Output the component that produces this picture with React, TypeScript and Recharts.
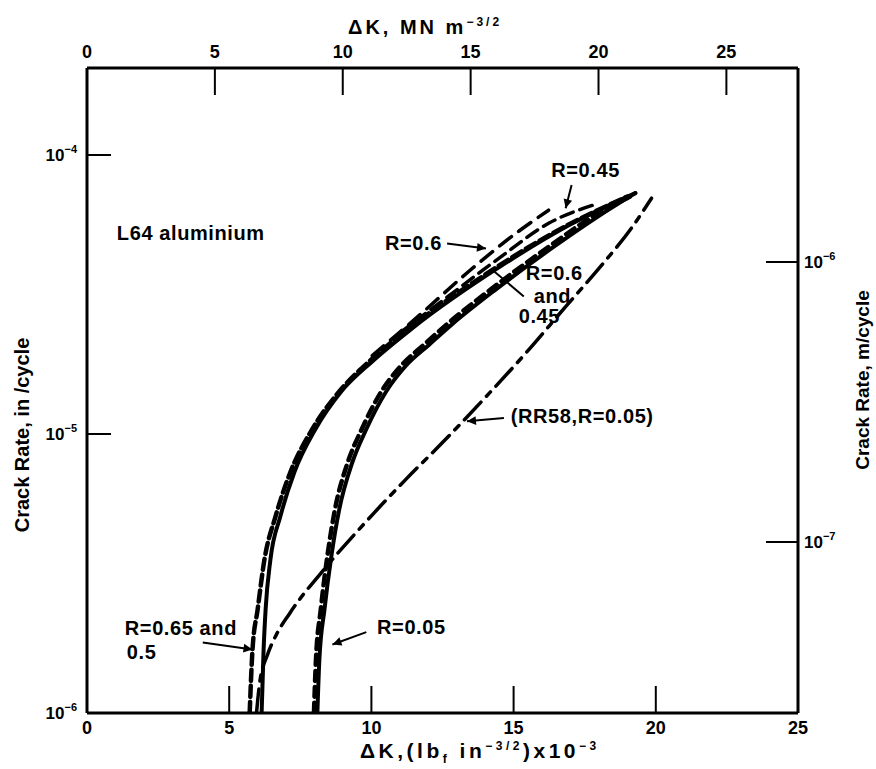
import React from 'react'
import { LineChart, Line, XAxis, YAxis, ReferenceLine, ReferenceDot } from 'recharts'

const W = 876
const H = 769
const FONT = '"Liberation Sans", Arial, sans-serif'

// ΔK in (lbf in^-3/2) x 10^-3, crack rate in in/cycle
const kR065 = [6.14, 6.21, 6.28, 6.45, 6.8, 7.29, 8.03, 8.94, 10.03, 11.43, 14.59, 16.94, 19.28]
const rateR065 = [1.0e-6, 1.69e-6, 2.35e-6, 3.55e-6, 5.07e-6, 7.29e-6, 1.04e-5, 1.42e-5, 1.82e-5, 2.39e-5, 4.02e-5, 5.6e-5, 7.3e-5]

const kR05 = [5.72, 5.82, 6.0, 6.24, 6.63, 7.15, 7.92, 8.87, 10.0, 11.68, 13.78, 16.6, 19.0]
const rateR05 = [1.0e-6, 1.69e-6, 2.35e-6, 3.55e-6, 5.07e-6, 7.29e-6, 1.04e-5, 1.42e-5, 1.85e-5, 2.55e-5, 3.6e-5, 5.4e-5, 7.1e-5]

const kR06 = [10.03, 11.68, 13.43, 15.18, 16.23]
const rateR06 = [1.91e-5, 2.66e-5, 3.83e-5, 5.33e-5, 6.34e-5]

const kR045 = [10.97, 12.73, 14.48, 16.23, 17.99]
const rateR045 = [2.29e-5, 3.13e-5, 4.26e-5, 5.69e-5, 6.71e-5]

const kR005 = [8.1, 8.17, 8.35, 8.59, 8.87, 9.33, 9.82, 10.52, 11.22, 12.03, 12.83, 14.38, 16.48, 17.99, 19.28]
const rateR005 = [1.0e-6, 1.55e-6, 2.35e-6, 3.64e-6, 5.37e-6, 7.92e-6, 1.04e-5, 1.42e-5, 1.76e-5, 2.09e-5, 2.47e-5, 3.3e-5, 4.74e-5, 6.04e-5, 7.3e-5]

const kR005b = [7.98, 8.05, 8.22, 8.45, 8.72, 9.17, 9.66, 10.35, 11.05, 11.85, 12.65, 14.2, 16.3, 17.8, 19.1]
const rateR005b = [1.0e-6, 1.55e-6, 2.35e-6, 3.64e-6, 5.37e-6, 7.92e-6, 1.04e-5, 1.42e-5, 1.76e-5, 2.09e-5, 2.47e-5, 3.3e-5, 4.74e-5, 6.04e-5, 7.1e-5]

const kRR58 = [5.96, 6.07, 6.35, 6.66, 7.12, 8.42, 9.82, 11.22, 12.62, 14.03, 15.43, 16.83, 18.09, 19.14, 19.85]
const rateRR58 = [1.0e-6, 1.28e-6, 1.62e-6, 1.91e-6, 2.27e-6, 3.35e-6, 4.86e-6, 6.89e-6, 9.59e-6, 1.36e-5, 1.95e-5, 2.86e-5, 4.02e-5, 5.46e-5, 7.0e-5]

const bottomTicks = [0, 5, 10, 15, 20, 25]
const topTicks = [0, 5, 10, 15, 20, 25]
const leftTicks = [1e-6, 1e-5, 1e-4]
const rightTicks = [1e-7, 1e-6]

const notes = [
  { text: 'L64 aluminium', k: 1.05, rate: 5.24e-5, anchor: 'start' },
  { text: 'R=0.45', k: 17.53, rate: 8.83e-5, anchor: 'middle' },
  { text: 'R=0.6', k: 12.48, rate: 4.82e-5, anchor: 'end' },
  { text: 'R=0.6', k: 15.43, rate: 3.77e-5, anchor: 'start' },
  { text: 'and', k: 15.71, rate: 3.13e-5, anchor: 'start' },
  { text: '0.45', k: 15.18, rate: 2.64e-5, anchor: 'start' },
  { text: '(RR58,R=0.05)', k: 14.9, rate: 1.16e-5, anchor: 'start' },
  { text: 'R=0.65 and', k: 1.33, rate: 2.02e-6, anchor: 'start' },
  { text: '0.5', k: 1.4, rate: 1.66e-6, anchor: 'start' },
  { text: 'R=0.05', k: 10.2, rate: 2.04e-6, anchor: 'start' },
]

const pointers = [
  { k1: 14.66, r1: 1.14e-5, k2: 13.36, r2: 1.11e-5, head: true },
  { k1: 12.66, r1: 4.82e-5, k2: 14.03, r2: 4.62e-5, head: true },
  { k1: 15.36, r1: 3.11e-5, k2: 14.31, r2: 3.83e-5, head: false },
  { k1: 17.04, r1: 7.8e-5, k2: 16.83, r2: 6.44e-5, head: true },
  { k1: 4.07, r1: 1.79e-6, k2: 5.82, r2: 1.69e-6, head: true },
  { k1: 9.82, r1: 1.95e-6, k2: 8.63, r2: 1.76e-6, head: true },
]

const toPts = (k: number[], r: number[]) => k.map((v, i) => ({ k: v, rate: r[i] }))

const series = [
  { data: toPts(kR05, rateR05), dash: '11 5', width: 4.5 },
  { data: toPts(kR065, rateR065), dash: undefined, width: 4 },
  { data: toPts(kR06, rateR06), dash: '15 9', width: 3.5 },
  { data: toPts(kR045, rateR045), dash: '13 7', width: 3.5 },
  { data: toPts(kR005b, rateR005b), dash: '10 6', width: 4.5 },
  { data: toPts(kR005, rateR005), dash: undefined, width: 4 },
  { data: toPts(kRR58, rateRR58), dash: '24 8 6 8', width: 3.5 },
]

const exp = (v: number) => Math.round(Math.log10(v))

function Pow({ x, y, v, anchor }: any) {
  return (
    <text x={x} y={y} dy="0.35em" textAnchor={anchor} fontFamily={FONT} fontWeight={700} fontSize={17} fill="#000">
      <tspan>10</tspan>
      <tspan dy={-8} fontSize={11}>{'\u2212' + Math.abs(exp(v))}</tspan>
    </text>
  )
}

function BottomTick({ x, y, payload }: any) {
  return (
    <g>
      <line x1={x} x2={x} y1={y} y2={y - 27} stroke="#000" strokeWidth={2} />
      <text x={x} y={y + 15} dy="0.35em" textAnchor="middle" fontFamily={FONT} fontWeight={700} fontSize={18} fill="#000">
        {payload.value}
      </text>
    </g>
  )
}

function TopTick({ x, y, payload }: any) {
  return (
    <g>
      <line x1={x} x2={x} y1={y} y2={y + 27} stroke="#000" strokeWidth={2} />
      <text x={x} y={y - 16} dy="0.35em" textAnchor="middle" fontFamily={FONT} fontWeight={700} fontSize={18} fill="#000">
        {payload.value}
      </text>
    </g>
  )
}

function LeftTick({ x, y, payload }: any) {
  return (
    <g>
      <line x1={x} x2={x + 24} y1={y} y2={y} stroke="#000" strokeWidth={2} />
      <Pow x={x - 10} y={y} v={payload.value} anchor="end" />
    </g>
  )
}

function RightTick({ x, y, payload }: any) {
  return (
    <g>
      <line x1={x} x2={x - 32} y1={y} y2={y} stroke="#000" strokeWidth={2} />
      <Pow x={x + 6} y={y} v={payload.value} anchor="start" />
    </g>
  )
}

function Pointer(p: any) {
  const { x1, y1, x2, y2, head } = p
  const a = Math.atan2(y2 - y1, x2 - x1)
  const L = 10
  const s = 0.45
  const tri = [
    [x2, y2],
    [x2 - L * Math.cos(a - s), y2 - L * Math.sin(a - s)],
    [x2 - L * Math.cos(a + s), y2 - L * Math.sin(a + s)],
  ]
  return (
    <g>
      <line x1={x1} y1={y1} x2={x2} y2={y2} stroke="#000" strokeWidth={2} />
      {head && <polygon points={tri.map((t) => t.join(',')).join(' ')} fill="#000" />}
    </g>
  )
}

const titleStyle: React.CSSProperties = {
  position: 'absolute',
  fontFamily: FONT,
  fontWeight: 700,
  fontSize: 20,
  color: '#000',
  whiteSpace: 'nowrap',
  lineHeight: 1,
}

const supStyle: React.CSSProperties = { fontSize: 12, verticalAlign: 'super' }

export default function App() {
  return (
    <div style={{ position: 'relative', width: W, height: H, background: '#fff' }}>
      <style>{'body{margin:0}'}</style>
      <LineChart width={W} height={H} margin={{ top: 0, right: 0, bottom: 0, left: 0 }}>
        <XAxis
          xAxisId="bottom"
          dataKey="k"
          type="number"
          domain={[0, 25]}
          ticks={bottomTicks}
          interval={0}
          allowDataOverflow
          height={56}
          tickSize={0}
          tickMargin={0}
          tick={<BottomTick />}
          axisLine={{ stroke: '#000', strokeWidth: 3 }}
        />
        <XAxis
          xAxisId="top"
          dataKey="k"
          orientation="top"
          type="number"
          scale="linear"
          domain={[0, 27.8]}
          ticks={topTicks}
          interval={0}
          allowDataOverflow
          height={68}
          tickSize={0}
          tickMargin={0}
          tick={<TopTick />}
          axisLine={{ stroke: '#000', strokeWidth: 3 }}
        />
        <YAxis
          yAxisId="left"
          scale="log"
          type="number"
          domain={[1e-6, 2.05e-4]}
          ticks={leftTicks}
          interval={0}
          allowDataOverflow
          width={87}
          tickSize={0}
          tickMargin={0}
          tick={<LeftTick />}
          axisLine={{ stroke: '#000', strokeWidth: 3 }}
        />
        <YAxis
          yAxisId="right"
          orientation="right"
          scale="log"
          type="number"
          domain={[2.45e-8, 4.93e-6]}
          ticks={rightTicks}
          interval={0}
          allowDataOverflow
          width={78}
          tickSize={0}
          tickMargin={0}
          tick={<RightTick />}
          axisLine={{ stroke: '#000', strokeWidth: 3 }}
        />
        {series.map((s, i) => (
          <Line
            key={i}
            xAxisId="bottom"
            yAxisId="left"
            data={s.data}
            dataKey="rate"
            type="monotone"
            stroke="#000"
            strokeWidth={s.width}
            strokeDasharray={s.dash}
            strokeLinecap="round"
            dot={false}
            activeDot={false}
            isAnimationActive={false}
          />
        ))}
        {pointers.map((p, i) => (
          <ReferenceLine
            key={'p' + i}
            xAxisId="bottom"
            yAxisId="left"
            segment={[
              { x: p.k1, y: p.r1 },
              { x: p.k2, y: p.r2 },
            ]}
            ifOverflow="visible"
            shape={(props: any) => <Pointer {...props} head={p.head} />}
          />
        ))}
        {notes.map((n, i) => (
          <ReferenceDot
            key={'n' + i}
            xAxisId="bottom"
            yAxisId="left"
            x={n.k}
            y={n.rate}
            r={0}
            ifOverflow="visible"
            shape={(props: any) => (
              <text
                x={props.cx}
                y={props.cy}
                dy="0.35em"
                textAnchor={n.anchor}
                fontFamily={FONT}
                fontWeight={700}
                fontSize={20}
                letterSpacing={0.6}
                fill="#000"
              >
                {n.text}
              </text>
            )}
          />
        ))}
      </LineChart>
      <div style={{ ...titleStyle, left: 348, top: 16, letterSpacing: 3 }}>
        ΔK, MN m<span style={supStyle}>−3/2</span>
      </div>
      <div style={{ ...titleStyle, left: 360, top: 740, fontSize: 21, letterSpacing: 3.5 }}>
        ΔK,(lb<sub style={{ fontSize: 12 }}>f</sub> in<span style={supStyle}>−3/2</span>)x10<span style={supStyle}>−3</span>
      </div>
      <div style={{ ...titleStyle, left: 22, top: 435, transform: 'translate(-50%, -50%) rotate(-90deg)' }}>
        Crack Rate, in /cycle
      </div>
      <div style={{ ...titleStyle, left: 862, top: 380, fontSize: 19, transform: 'translate(-50%, -50%) rotate(-90deg)' }}>
        Crack Rate, m/cycle
      </div>
    </div>
  )
}
